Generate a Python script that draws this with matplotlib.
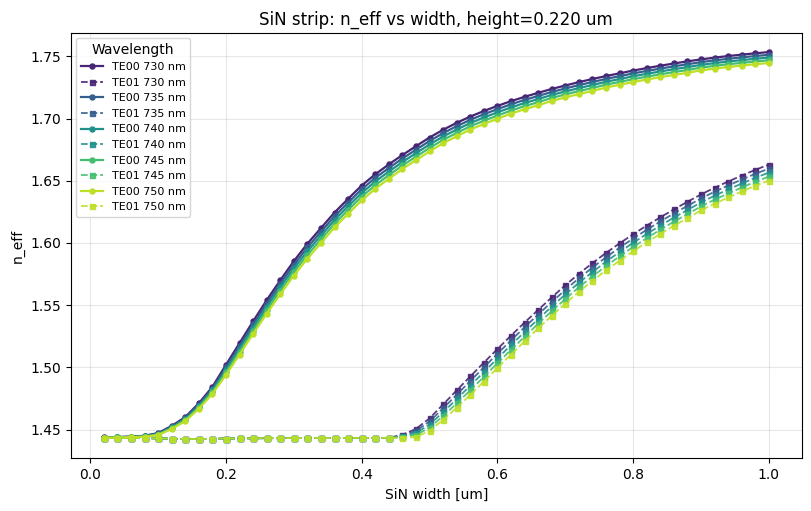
import matplotlib
matplotlib.use("Agg")
import matplotlib.pyplot as plt
import numpy as np

# SiN strip waveguide, height 0.220 um
widths = [0.02, 0.04, 0.06, 0.08, 0.10, 0.12, 0.14, 0.16, 0.18, 0.20,
          0.22, 0.24, 0.26, 0.28, 0.30, 0.32, 0.34, 0.36, 0.38, 0.40,
          0.42, 0.44, 0.46, 0.48, 0.50, 0.52, 0.54, 0.56, 0.58, 0.60,
          0.62, 0.64, 0.66, 0.68, 0.70, 0.72, 0.74, 0.76, 0.78, 0.80,
          0.82, 0.84, 0.86, 0.88, 0.90, 0.92, 0.94, 0.96, 0.98, 1.00]

wavelengths = [730, 735, 740, 745, 750]

te00_730 = [1.4437, 1.4440, 1.4443, 1.4450, 1.4472, 1.4529, 1.4600, 1.4711, 1.4843, 1.5020,
            1.5195, 1.5370, 1.5540, 1.5700, 1.5854, 1.5994, 1.6120, 1.6245, 1.6355, 1.6462,
            1.6552, 1.6632, 1.6707, 1.6778, 1.6848, 1.6910, 1.6966, 1.7016, 1.7061, 1.7102,
            1.7140, 1.7175, 1.7207, 1.7238, 1.7266, 1.7293, 1.7318, 1.7342, 1.7364, 1.7386,
            1.7406, 1.7425, 1.7443, 1.7460, 1.7476, 1.7490, 1.7503, 1.7514, 1.7525, 1.7535]
te00_735 = [1.4436, 1.4439, 1.4442, 1.4448, 1.4468, 1.4523, 1.4592, 1.4700, 1.4829, 1.5000,
            1.5172, 1.5345, 1.5513, 1.5672, 1.5825, 1.5964, 1.6090, 1.6215, 1.6325, 1.6432,
            1.6523, 1.6603, 1.6679, 1.6750, 1.6820, 1.6883, 1.6939, 1.6990, 1.7035, 1.7076,
            1.7115, 1.7150, 1.7182, 1.7214, 1.7242, 1.7269, 1.7294, 1.7319, 1.7341, 1.7363,
            1.7383, 1.7402, 1.7420, 1.7437, 1.7454, 1.7468, 1.7481, 1.7492, 1.7503, 1.7513]
te00_740 = [1.4435, 1.4438, 1.4441, 1.4446, 1.4464, 1.4517, 1.4584, 1.4689, 1.4815, 1.4980,
            1.5149, 1.5320, 1.5486, 1.5644, 1.5796, 1.5934, 1.6060, 1.6185, 1.6295, 1.6402,
            1.6494, 1.6574, 1.6651, 1.6722, 1.6792, 1.6856, 1.6912, 1.6964, 1.7009, 1.7050,
            1.7090, 1.7125, 1.7157, 1.7190, 1.7218, 1.7245, 1.7270, 1.7296, 1.7318, 1.7340,
            1.7360, 1.7379, 1.7397, 1.7414, 1.7432, 1.7446, 1.7459, 1.7470, 1.7481, 1.7491]
te00_745 = [1.4434, 1.4437, 1.4440, 1.4444, 1.4460, 1.4511, 1.4576, 1.4678, 1.4801, 1.4960,
            1.5126, 1.5295, 1.5459, 1.5616, 1.5767, 1.5904, 1.6030, 1.6155, 1.6265, 1.6372,
            1.6465, 1.6545, 1.6623, 1.6694, 1.6764, 1.6829, 1.6885, 1.6938, 1.6983, 1.7024,
            1.7065, 1.7100, 1.7132, 1.7166, 1.7194, 1.7221, 1.7246, 1.7273, 1.7295, 1.7317,
            1.7337, 1.7356, 1.7374, 1.7391, 1.7410, 1.7424, 1.7437, 1.7448, 1.7459, 1.7469]
te00_750 = [1.4433, 1.4436, 1.4439, 1.4442, 1.4456, 1.4505, 1.4568, 1.4667, 1.4787, 1.4940,
            1.5103, 1.5270, 1.5432, 1.5588, 1.5738, 1.5874, 1.6000, 1.6125, 1.6235, 1.6342,
            1.6436, 1.6516, 1.6595, 1.6666, 1.6736, 1.6802, 1.6858, 1.6912, 1.6957, 1.6998,
            1.7040, 1.7075, 1.7107, 1.7142, 1.7170, 1.7197, 1.7222, 1.7250, 1.7272, 1.7294,
            1.7314, 1.7333, 1.7351, 1.7368, 1.7388, 1.7402, 1.7415, 1.7426, 1.7437, 1.7447]

# TE01 is below cutoff (same value for every wavelength) up to 0.44 um
te01_below = [1.4433, 1.4433, 1.4432, 1.4431, 1.4429, 1.4426, 1.4424, 1.4424, 1.4426, 1.4428,
              1.4429, 1.4430, 1.4431, 1.4431, 1.4432, 1.4432, 1.4432, 1.4432, 1.4433, 1.4433,
              1.4433, 1.4433]
te01_730 = te01_below + [1.4458, 1.4505, 1.4590, 1.4702, 1.4815, 1.4927, 1.5038, 1.5147,
                         1.5255, 1.5360, 1.5462, 1.5562, 1.5660, 1.5752, 1.5838, 1.5920, 1.5997, 1.6070,
                         1.6140, 1.6206, 1.6270, 1.6331, 1.6390, 1.6444, 1.6494, 1.6542, 1.6588, 1.6630]
te01_735 = te01_below + [1.4452, 1.4489, 1.4565, 1.4671, 1.4780, 1.4890, 1.5000, 1.5109,
                         1.5217, 1.5322, 1.5425, 1.5525, 1.5623, 1.5716, 1.5802, 1.5885, 1.5962, 1.6036,
                         1.6106, 1.6173, 1.6237, 1.6298, 1.6358, 1.6412, 1.6462, 1.6510, 1.6556, 1.6598]
te01_740 = te01_below + [1.4446, 1.4473, 1.4540, 1.4640, 1.4745, 1.4853, 1.4962, 1.5071,
                         1.5179, 1.5284, 1.5388, 1.5488, 1.5586, 1.5680, 1.5766, 1.5850, 1.5927, 1.6002,
                         1.6072, 1.6140, 1.6204, 1.6265, 1.6326, 1.6380, 1.6430, 1.6478, 1.6524, 1.6566]
te01_745 = te01_below + [1.4440, 1.4457, 1.4515, 1.4609, 1.4710, 1.4816, 1.4924, 1.5033,
                         1.5141, 1.5246, 1.5351, 1.5451, 1.5549, 1.5644, 1.5730, 1.5815, 1.5892, 1.5968,
                         1.6038, 1.6107, 1.6171, 1.6232, 1.6294, 1.6348, 1.6398, 1.6446, 1.6492, 1.6534]
te01_750 = te01_below + [1.4434, 1.4441, 1.4490, 1.4578, 1.4675, 1.4779, 1.4886, 1.4995,
                         1.5103, 1.5208, 1.5314, 1.5414, 1.5512, 1.5608, 1.5694, 1.5780, 1.5857, 1.5934,
                         1.6004, 1.6074, 1.6138, 1.6199, 1.6262, 1.6316, 1.6366, 1.6414, 1.6460, 1.6502]

te00 = [te00_730, te00_735, te00_740, te00_745, te00_750]
te01 = [te01_730, te01_735, te01_740, te01_745, te01_750]


def plot_modes(ax):
    colors = plt.cm.viridis(np.linspace(0.1, 0.9, len(wavelengths)))
    for wl, n0, n1, c in zip(wavelengths, te00, te01, colors):
        ax.plot(widths, n0, '-o', color=c, linewidth=1.6, markersize=3.6,
                label=f"TE00 {wl} nm")
        ax.plot(widths, n1, '--s', color=c, linewidth=1.3, markersize=3.6,
                alpha=0.9, label=f"TE01 {wl} nm")
    ax.set_xlabel("SiN width [um]")
    ax.set_ylabel("n_eff")
    ax.set_title("SiN strip: n_eff vs width, height=0.220 um")
    ax.grid(True, alpha=0.3)
    ax.legend(title="Wavelength", fontsize=8, loc="upper left")


def main():
    fig, ax = plt.subplots(figsize=(8.11, 5.11), dpi=100)
    plot_modes(ax)
    fig.subplots_adjust(left=0.087, right=0.989, top=0.936, bottom=0.103)
    fig.savefig("out.png", dpi=100)


if __name__ == "__main__":
    main()
